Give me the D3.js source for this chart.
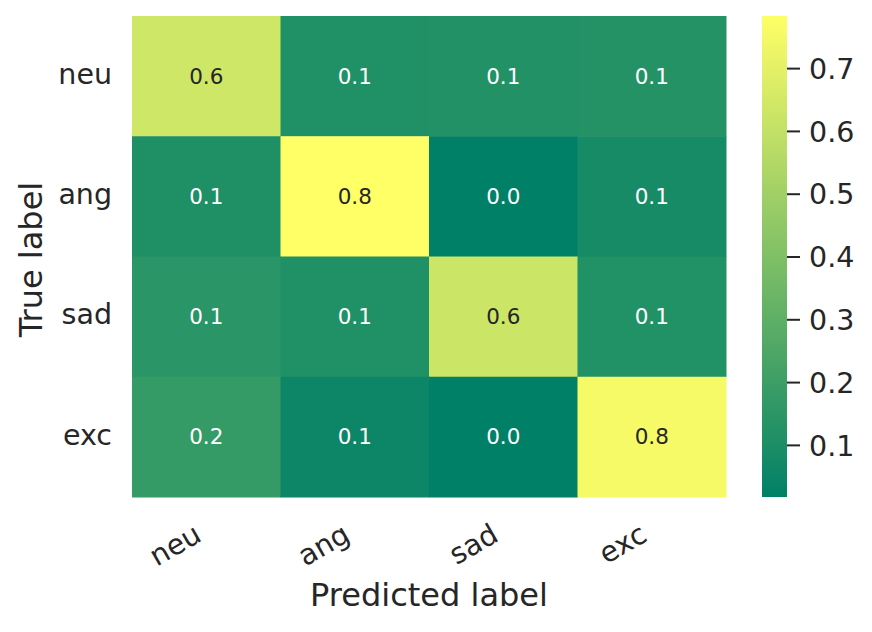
<!DOCTYPE html>
<html>
<head>
<meta charset="utf-8">
<script src="https://cdn.jsdelivr.net/npm/d3@7"></script>
<style>
  html, body { margin: 0; padding: 0; background: #fff; }
  svg { display: block; font-family: "DejaVu Sans", sans-serif; }
</style>
</head>
<body>
<svg id="chart" width="872" height="632"></svg>
<script>
const trueLabels = ["neu", "ang", "sad", "exc"];
const predLabels = ["neu", "ang", "sad", "exc"];
const rowNeu = [0.640, 0.112, 0.120, 0.127];
const rowAng = [0.110, 0.783, 0.017, 0.082];
const rowSad = [0.143, 0.113, 0.627, 0.117];
const rowExc = [0.177, 0.054, 0.017, 0.752];
const matrix = [rowNeu, rowAng, rowSad, rowExc];
const colorbarTicks = [0.1, 0.2, 0.3, 0.4, 0.5, 0.6, 0.7];
const xTitle = "Predicted label";
const yTitle = "True label";

const svg = d3.select("#chart");
const M = { left: 132, right: 726, top: 16, bottom: 497 };
const ink = "#262626";

const cells = [];
matrix.forEach((row, i) => row.forEach((v, j) => cells.push({ r: trueLabels[i], c: predLabels[j], v })));

const x = d3.scaleBand().domain(predLabels).range([M.left, M.right]);
const y = d3.scaleBand().domain(trueLabels).range([M.top, M.bottom]);
const ext = d3.extent(cells, d => d.v);
const color = d3.scaleLinear().domain(ext).range(["rgb(0,128,102)", "rgb(255,255,102)"]).interpolate(d3.interpolateRgb);

function lum(c) {
  const rgb = d3.rgb(c);
  const f = u => { u /= 255; return u <= 0.03928 ? u / 12.92 : Math.pow((u + 0.055) / 1.055, 2.4); };
  return 0.2126 * f(rgb.r) + 0.7152 * f(rgb.g) + 0.0722 * f(rgb.b);
}

// cells
svg.append("g").selectAll("rect").data(cells).join("rect")
  .attr("x", d => x(d.c)).attr("y", d => y(d.r))
  .attr("width", x.bandwidth() + 0.5).attr("height", y.bandwidth() + 0.5)
  .attr("fill", d => color(d.v));

// annotations
const annFs = 21.5;
svg.append("g").selectAll("text").data(cells).join("text")
  .attr("x", d => x(d.c) + x.bandwidth() / 2)
  .attr("y", d => y(d.r) + y.bandwidth() / 2 + 0.35 * annFs)
  .attr("text-anchor", "middle")
  .attr("font-size", annFs)
  .attr("fill", d => lum(color(d.v)) > 0.408 ? ink : "#ffffff")
  .text(d => d3.format(".1f")(d.v));

// y tick labels
const tickFs = 28.5;
svg.append("g").selectAll("text").data(trueLabels).join("text")
  .attr("x", 112)
  .attr("y", d => y(d) + y.bandwidth() / 2 + 0.27 * tickFs)
  .attr("text-anchor", "end")
  .attr("font-size", tickFs)
  .attr("fill", ink)
  .text(d => d);

// x tick labels (rotated)
svg.append("g").selectAll("text").data(predLabels).join("text")
  .attr("transform", d => `translate(${x(d) + x.bandwidth() / 2 - 3},${540}) rotate(-30)`)
  .attr("text-anchor", "end")
  .attr("font-size", tickFs)
  .attr("fill", ink)
  .text(d => d);

// axis titles
const titleFs = 32;
svg.append("text")
  .attr("x", (M.left + M.right) / 2).attr("y", 606)
  .attr("text-anchor", "middle").attr("font-size", titleFs).attr("fill", ink)
  .text(xTitle);
svg.append("text")
  .attr("transform", `translate(42,${(M.top + M.bottom) / 2 + 3}) rotate(-90)`)
  .attr("text-anchor", "middle").attr("font-size", titleFs).attr("fill", ink)
  .text(yTitle);

// colorbar
const cb = { x: 762, w: 25 };
const defs = svg.append("defs");
const grad = defs.append("linearGradient").attr("id", "cbgrad")
  .attr("x1", 0).attr("y1", 1).attr("x2", 0).attr("y2", 0);
d3.range(0, 1.0001, 0.1).forEach(t => {
  const v = ext[0] + t * (ext[1] - ext[0]);
  grad.append("stop").attr("offset", t).attr("stop-color", color(v));
});
svg.append("rect").attr("x", cb.x).attr("y", M.top).attr("width", cb.w)
  .attr("height", M.bottom - M.top).attr("fill", "url(#cbgrad)");

const cbScale = d3.scaleLinear().domain(ext).range([M.bottom, M.top]);
const cbAxis = d3.axisRight(cbScale).tickValues(colorbarTicks).tickSize(13).tickPadding(9)
  .tickFormat(d3.format(".1f"));
const ga = svg.append("g").attr("transform", `translate(${cb.x + cb.w},0)`).call(cbAxis);
ga.select(".domain").remove();
ga.selectAll(".tick line").attr("stroke", ink).attr("stroke-width", 2);
ga.selectAll(".tick text").attr("font-size", tickFs).attr("fill", ink)
  .attr("font-family", "DejaVu Sans, sans-serif").attr("dy", null)
  .attr("y", 0.36 * tickFs);
</script>
</body>
</html>
